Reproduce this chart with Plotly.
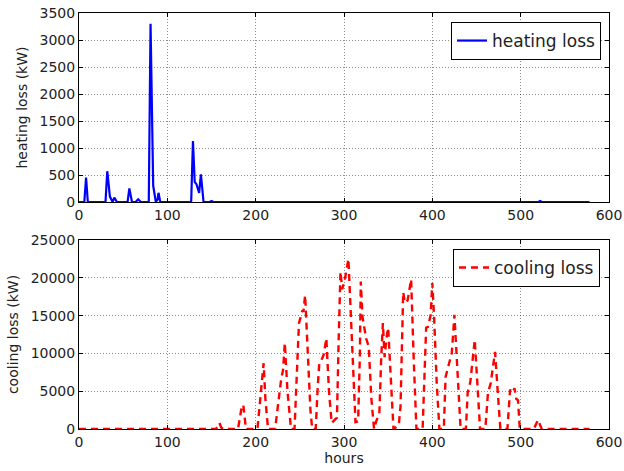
import plotly.graph_objects as go

# ---- data ----
heat_hours = [0, 6, 8, 10, 30, 32, 35, 38, 40, 43, 55, 57, 60, 64, 67, 70,
              79, 81, 84, 87, 89, 90, 92, 127, 129, 131, 133, 136, 138, 141,
              148, 150, 152, 520, 522, 524, 578]
heat_vals = [0, 0, 450, 0, 0, 570, 100, 0, 80, 0, 0, 250, 0, 0, 50, 0,
             0, 3300, 300, 0, 50, 170, 0, 0, 1130, 370, 330, 170, 510, 0,
             0, 20, 0, 0, 20, 0, 0]

cool_hours = [0, 155, 157, 159, 161, 163,
              180, 182, 184, 186, 187, 189,
              202, 204, 206, 208, 209, 211, 214,
              222, 225, 229, 231, 233, 236, 240,
              244, 246, 249, 253, 254, 256, 259, 262, 264,
              268, 270, 272, 274, 277, 280, 283, 286, 289, 292,
              294, 296, 298, 301, 305, 308, 311, 313, 316,
              318, 319, 321, 325, 328, 331, 334,
              337, 340, 342, 344, 346, 348, 350, 353, 356,
              362, 364, 367, 369, 372, 376, 379, 382,
              389, 393, 395, 398, 400, 402, 405, 408,
              413, 415, 419, 422, 425, 428, 432,
              438, 440, 443, 446, 448, 451, 454,
              460, 463, 466, 471, 474, 477,
              485, 488, 491, 493, 495, 497, 499,
              515, 518, 520, 522, 524, 578]
cool_vals = [0, 0, 300, 800, 200, 0,
             0, 1500, 2800, 3200, 2000, 0,
             0, 2500, 4800, 7500, 8700, 4000, 0,
             0, 3000, 6700, 7800, 11400, 5000, 0,
             0, 6000, 14000, 15700, 15500, 17700, 9000, 2500, 0,
             0, 5000, 8700, 9000, 9800, 12000, 5000, 800, 1200, 1500,
             12000, 20800, 18500, 19800, 22500, 15000, 6000, 900, 1000,
             10000, 19500, 14800, 12000, 10900, 4000, 0,
             1200, 2000, 9000, 14000, 9500, 12000, 13400, 6000, 0,
             500, 3000, 18100, 16700, 17000, 19800, 9000, 0,
             0, 13400, 13500, 15000, 19300, 14800, 6000, 0,
             0, 6900, 8700, 10000, 15100, 8000, 0,
             0, 4800, 6200, 9500, 11800, 6000, 0,
             0, 4800, 6000, 10200, 5000, 0,
             0, 5200, 4800, 5400, 4000, 3800, 0,
             0, 800, 1200, 500, 0, 0]

x_ticks = [0, 100, 200, 300, 400, 500, 600]
heat_ticks = [0, 500, 1000, 1500, 2000, 2500, 3000, 3500]
cool_ticks = [0, 5000, 10000, 15000, 20000, 25000]

FONT = "DejaVu Sans"
TXT = "#222222"

fig = go.Figure()
fig.add_trace(go.Scatter(x=heat_hours, y=heat_vals, mode="lines", name="heating loss",
                         line=dict(color="#0000ff", width=2.2),
                         xaxis="x", yaxis="y", legend="legend"))
fig.add_trace(go.Scatter(x=cool_hours, y=cool_vals, mode="lines", name="cooling loss",
                         line=dict(color="#ff0000", width=2.4, dash="7px,5px"),
                         xaxis="x2", yaxis="y2", legend="legend2"))

axis_common = dict(showline=True, linecolor="black", linewidth=1, mirror="ticks",
                   ticks="inside", ticklen=4, tickcolor="black",
                   showgrid=True, gridcolor="rgba(0,0,0,0.45)", griddash="1px,2px", gridwidth=1,
                   zeroline=False, ticklabeloverflow="allow", automargin=False,
                   tickfont=dict(family=FONT, size=14, color=TXT))

XR = 609 / 624

fig.update_layout(
    width=624, height=471,
    margin=dict(l=0, r=0, t=0, b=0, autoexpand=False),
    paper_bgcolor="white", plot_bgcolor="white",
    font=dict(family=FONT, size=14, color=TXT),
    xaxis=dict(domain=[79/624, XR], anchor="y", range=[0, 600],
               tickvals=x_ticks, ticktext=[str(v) for v in x_ticks], **axis_common),
    yaxis=dict(domain=[1-202/471, 1-13/471], anchor="x", range=[0, 3500],
               tickvals=heat_ticks, ticktext=[str(v) for v in heat_ticks],
               title=dict(text="heating loss (kW)", font=dict(family=FONT, size=14, color=TXT), standoff=8),
               **axis_common),
    xaxis2=dict(domain=[79/624, XR], anchor="y2", range=[0, 600],
                tickvals=x_ticks, ticktext=[str(v) for v in x_ticks],
                title=dict(text="hours", font=dict(family=FONT, size=14, color=TXT), standoff=2),
                **axis_common),
    yaxis2=dict(domain=[1-429/471, 1-240/471], anchor="x2", range=[0, 25000],
                tickvals=cool_ticks, ticktext=[str(v) for v in cool_ticks],
                title=dict(text="cooling loss (kW)", font=dict(family=FONT, size=14, color=TXT), standoff=8),
                **axis_common),
    legend=dict(x=601/624, y=1-22/471, xanchor="right", yanchor="top",
                bgcolor="white", bordercolor="black", borderwidth=1,
                font=dict(family=FONT, size=17, color=TXT)),
    legend2=dict(x=600/624, y=1-249/471, xanchor="right", yanchor="top",
                 bgcolor="white", bordercolor="black", borderwidth=1,
                 font=dict(family=FONT, size=17, color=TXT)),
    showlegend=True,
)

fig.write_html("out.html")
